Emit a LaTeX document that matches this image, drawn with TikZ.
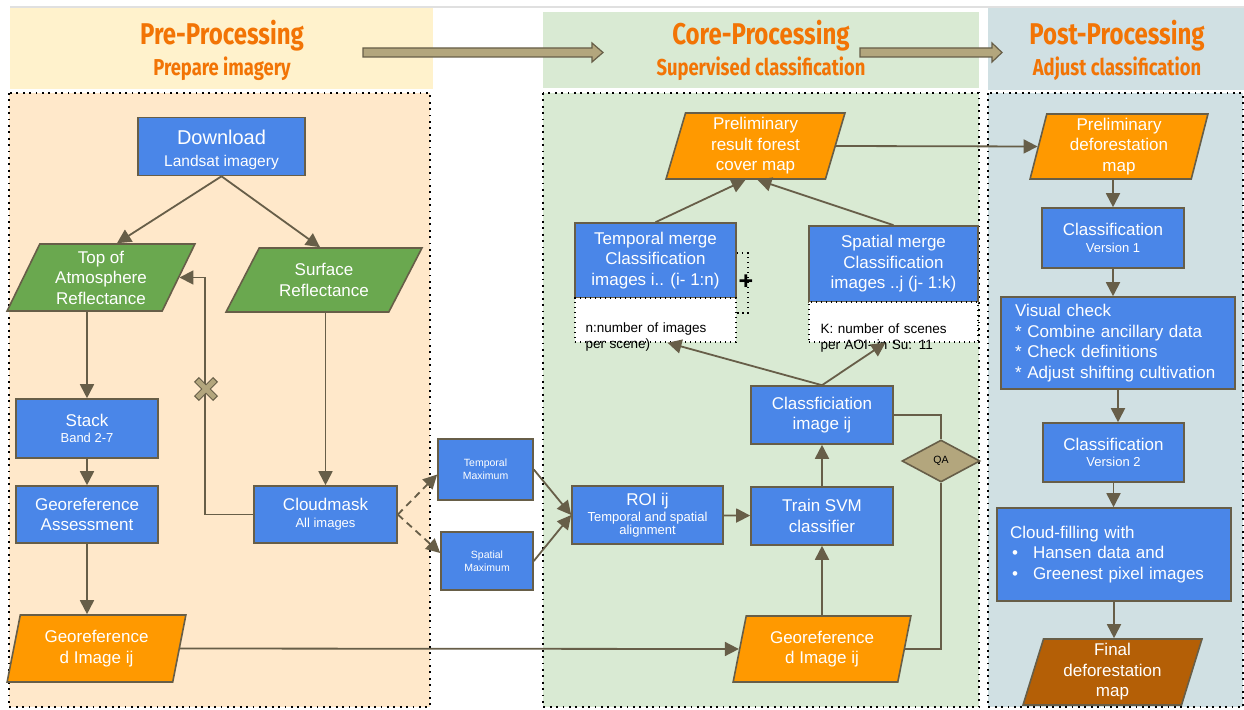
\documentclass[tikz,border=0pt]{standalone}
\usepackage{fontspec}
\setmainfont{Liberation Sans}
\newfontfamily\headfont[FakeStretch=0.8]{Fira Sans}
\usepackage{xcolor}
\usepackage{tikz}
\usetikzlibrary{positioning,arrows.meta,shapes.geometric}

\definecolor{boxblue}{HTML}{4A86E8}
\definecolor{iogreen}{HTML}{6AA84F}
\definecolor{ioorange}{HTML}{FF9900}
\definecolor{iobrown}{HTML}{B45F06}
\definecolor{khaki}{HTML}{B3A67D}
\definecolor{lineclr}{HTML}{675E48}
\definecolor{titleorange}{HTML}{F27405}
\definecolor{prehead}{HTML}{FFF2CC}
\definecolor{prebody}{HTML}{FFE8CA}
\definecolor{corebg}{HTML}{D9EAD3}
\definecolor{postbg}{HTML}{D0E0E3}

\newcommand{\boxfnt}{\fontsize{17}{20.5}\selectfont}
\newcommand{\subfnt}{\fontsize{13}{15}\selectfont}
\newcommand{\notefnt}{\fontsize{13.5}{16}\selectfont}
\newcommand{\tinyfnt}{\fontsize{10.5}{13}\selectfont}

\begin{document}
\begin{tikzpicture}[
  x=1pt, y=-1pt,
  conn/.style={draw=lineclr, line width=1.8pt},
  arr/.style={conn, -{Triangle[length=14pt,width=14pt]}},
  proc/.style={draw=lineclr, line width=1.6pt, fill=boxblue, text=white, align=center, font=\boxfnt, inner sep=2pt},
  io/.style={proc, trapezium, trapezium stretches=true},
  panel/.style={draw=black, line width=1.8pt, dash pattern=on 1.8pt off 4.6pt},
  note/.style={draw=black, line width=1.4pt, dash pattern=on 1.4pt off 3.6pt, fill=white, text=black, align=left, font=\notefnt, text depth=0pt},
  headtxt/.style={text=titleorange, font=\headfont\bfseries\fontsize{30}{32}\selectfont, anchor=base},
  subtxt/.style={headtxt, font=\headfont\bfseries\fontsize{23}{26}\selectfont},
  bigarrow/.style={fill=khaki, draw=lineclr, line width=1.2pt}
]
\useasboundingbox (0,0) rectangle (1244,709);

% -- panels --
\draw[black!12, line width=2pt] (10,7) -- (1244,7);
\fill[prehead] (10,8) rectangle (433,89);
\fill[corebg] (543,12) rectangle (979,88);
\fill[postbg] (988,8) rectangle (1244,90);
\draw[panel, fill=prebody] (9,93) rectangle (430,707);
\draw[panel, fill=corebg] (543,93) rectangle (979,707);
\draw[panel, fill=postbg] (988,93) rectangle (1243,707);

\node[headtxt] (pretitle) at (222,45) {Pre-Processing};
\node[subtxt] (presub) at (222,75) {Prepare imagery};
\node[headtxt] (coretitle) at (761,45) {Core-Processing};
\node[subtxt] (coresub) at (761,75) {Supervised classification};
\node[headtxt] (posttitle) at (1117,45) {Post-Processing};
\node[subtxt] (postsub) at (1117,75) {Adjust classification};

\draw[bigarrow] (363,48) -- ++(229,0) -- ++(0,-5) -- ++(11,9.5) -- ++(-11,9.5) -- ++(0,-5) -- ++(-229,0) -- cycle;
\draw[bigarrow] (860,48) -- ++(132,0) -- ++(0,-5) -- ++(10,9.5) -- ++(-10,9.5) -- ++(0,-5) -- ++(-132,0) -- cycle;

% -- pre-processing --
\node[proc, minimum width=167, minimum height=58] (download) at (221.5,146.5)
  {\fontsize{20}{22}\selectfont\rule{0pt}{21.5pt}Download\\[1pt]{\fontsize{15.5}{18}\selectfont Landsat imagery}};
\node[io, fill=iogreen, minimum width=188, minimum height=67,
  trapezium left angle=66, trapezium right angle=114] (topatm) at (101,277.5)
  {Top of\\Atmosphere\\Reflectance};
\node[io, fill=iogreen, minimum width=196, minimum height=64,
  trapezium left angle=57, trapezium right angle=123] (surface) at (324,280)
  {Surface\\Reflectance};
\node[proc, minimum width=142, minimum height=59] (stack) at (87,428.5)
  {Stack\\[-5pt]{\subfnt Band 2-7}};
\node[proc, minimum width=142, minimum height=57] (geoassess) at (87,514.5)
  {Georeference\\Assessment};
\node[proc, minimum width=143, minimum height=57] (cloudmask) at (325.5,514.5)
  {Cloudmask\\[-3.5pt]{\subfnt All images}};
\node[io, fill=ioorange, minimum width=179, minimum height=67,
  trapezium left angle=77, trapezium right angle=103] (georefA) at (96.5,648.5)
  {Georeference\\d Image ij};
\coordinate (cross) at (206,389);

% -- core-processing --
\node[proc, font=\tinyfnt, minimum width=95, minimum height=61] (temporal) at (485.5,469.5)
  {Temporal\\Maximum};
\node[proc, font=\tinyfnt, minimum width=92, minimum height=58] (spatial) at (487,561)
  {Spatial\\Maximum};
\node[proc, minimum width=151, minimum height=58] (roi) at (647.5,515)
  {ROI ij\\[-4.5pt]{\subfnt Temporal and spatial}\\[-7pt]{\subfnt alignment}};
\node[proc, minimum width=142, minimum height=58] (train) at (822,516)
  {Train SVM\\classifier};
\node[proc, minimum width=142, minimum height=58] (classimg) at (822,415)
  {Classficiation\\image ij};
\node[diamond, draw=lineclr, line width=1.6pt, fill=khaki, font=\tinyfnt,
  minimum width=78, minimum height=42, inner sep=0pt] (qa) at (941,461) {QA};
\node[io, fill=ioorange, minimum width=178, minimum height=66,
  trapezium left angle=77, trapezium right angle=103] (georefB) at (822,649)
  {Georeference\\d Image ij};
\node[io, fill=ioorange, minimum width=179, minimum height=66,
  trapezium left angle=78, trapezium right angle=102] (prelimf) at (755.5,146)
  {Preliminary\\result forest\\cover map};
\node[proc, minimum width=161, minimum height=75] (tmerge) at (655.5,260.5)
  {Temporal merge\\Classification\\images i.. (i- 1:n)};
\node[note, minimum width=161, minimum height=44, text width=140] (tnote) at (655.5,320)
  {\rule{0pt}{24pt}n:number of images\\per scene)};
\node[proc, minimum width=169, minimum height=76] (smerge) at (893.5,264)
  {Spatial merge\\Classification\\images ..j (j- 1:k)};
\node[note, minimum width=169, minimum height=40, text width=146] (snote) at (893.5,322)
  {\rule{0pt}{22pt}K: number of scenes\\per AOI- in Su: 11};
\node[font=\bfseries\fontsize{25}{25}\selectfont, inner sep=0pt] (plus) at (746,282) {+};

% -- post-processing --
\node[io, fill=ioorange, minimum width=178, minimum height=65,
  trapezium left angle=79, trapezium right angle=101] (prelimd) at (1119,146.5)
  {Preliminary\\deforestation\\map};
\node[proc, minimum width=142, minimum height=60] (v1) at (1113,238)
  {Classification\\[-4pt]{\subfnt Version 1}};
\node[proc, align=left, text width=206, minimum width=234, minimum height=92] (visual) at (1118,343)
  {Visual check\\{*} Combine ancillary data\\{*} Check definitions\\{*} Adjust shifting cultivation};
\node[proc, minimum width=141, minimum height=59] (v2) at (1113.5,452.5)
  {Classification\\[-4pt]{\subfnt Version 2}};
\node[proc, align=left, text width=208, minimum width=234, minimum height=93] (cloud) at (1114,554.5)
  {Cloud-filling with\\\hspace*{2pt}\makebox[21pt][l]{•}Hansen data and\\\hspace*{2pt}\makebox[21pt][l]{•}Greenest pixel images};
\node[io, fill=iobrown, minimum width=179, minimum height=66,
  trapezium left angle=76, trapezium right angle=104] (final) at (1112.5,672)
  {Final\\deforestation\\map};

% -- connectors --
\draw[arr] (download.south) -- ([xshift=16pt]topatm.north);
\draw[arr] (download.south) -- ([xshift=-4pt]surface.north);
\draw[arr] (topatm.south -| stack.north) -- (stack.north);
\draw[arr] (stack) -- (geoassess);
\draw[arr] (geoassess.south) -- (geoassess.south |- georefA.north);
\draw[arr] (surface.south -| cloudmask.north) -- (cloudmask.north);
\draw[arr] (cloudmask.west) -- ++(-48,0) |- (topatm.east);
\fill[khaki, draw=lineclr, line width=1pt, shift={(cross)}, rotate=45]
  (3,13) -- (3,3) -- (13,3) -- (13,-3) -- (3,-3) -- (3,-13) -- (-3,-13) -- (-3,-3)
  -- (-13,-3) -- (-13,3) -- (-3,3) -- (-3,13) -- cycle;
\draw[arr, dash pattern=on 7pt off 5pt] (cloudmask.east) -- ([yshift=-5pt]temporal.west);
\draw[arr, dash pattern=on 7pt off 5pt] (cloudmask.east) -- ([yshift=8pt]spatial.west);
\draw[arr] (georefA.east) -- (georefB.west);

\draw[arr] (temporal.east) -- (roi.west);
\draw[arr] (spatial.east) -- (roi.west);
\draw[arr] (roi) -- (train);
\draw[arr] (georefB) -- (train);
\draw[arr] (train) -- (classimg);
\draw[conn] (classimg.east) -| (qa.north);
\draw[conn] (qa.south) |- (georefB.east);
\draw[arr] (classimg.north) -- ([xshift=12pt]tnote.south);
\draw[arr] (classimg.north) -- ([xshift=-8pt]snote.south);
\draw[arr] (tmerge.north) -- ([xshift=-10pt]prelimf.south);
\draw[arr] (smerge.north) -- ([xshift=2pt]prelimf.south);
\draw[note, fill=none] ([yshift=7.5pt]tmerge.east) -- ++(11,0) -- ++(0,60) -- ++(-11,0);
\draw[arr] (prelimf.east) -- (prelimd.west);

\draw[arr] (prelimd.south -| v1.north) -- (v1.north);
\draw[arr] (v1.south) -- (v1.south |- visual.north);
\draw[arr] (visual.south) -- (visual.south |- v2.north);
\draw[arr] (v2.south) -- (v2.south |- cloud.north);
\draw[arr] (cloud.south) -- (cloud.south |- final.north);

\end{tikzpicture}
\end{document}
